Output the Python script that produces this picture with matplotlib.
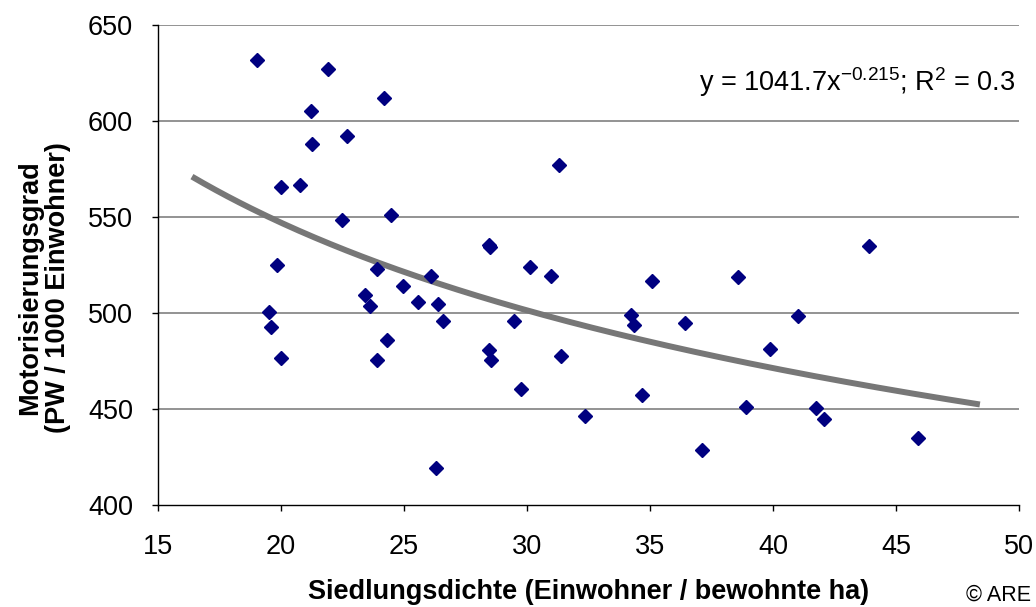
import numpy as np
import matplotlib
matplotlib.use("Agg")
import matplotlib.pyplot as plt

plt.rcParams['font.family'] = ['Liberation Sans', 'DejaVu Sans']
plt.rcParams['mathtext.fontset'] = 'custom'
plt.rcParams['mathtext.rm'] = 'Liberation Sans'
plt.rcParams['mathtext.it'] = 'Liberation Sans'

# Data (Siedlungsdichte, Motorisierungsgrad)
density = [19.01, 21.91, 24.18, 21.21, 22.70, 21.27, 20.00, 20.77, 22.47, 24.46,
           19.85, 23.89, 26.09, 24.96, 23.40, 23.61, 25.58, 26.37, 19.51, 26.58,
           19.58, 24.31, 20.00, 23.89, 26.29, 31.32, 28.45, 28.48, 30.11, 30.96,
           35.07, 38.56, 29.47, 34.21, 34.36, 36.41, 28.47, 28.55, 31.39, 29.76,
           34.69, 32.37, 37.13, 43.92, 41.00, 39.88, 38.89, 41.73, 42.07, 45.90]
motorisation = [632, 627, 612, 605, 592, 588, 565.5, 566.6, 548.4, 551.1,
                524.8, 522.9, 519.4, 514.0, 509.4, 503.8, 505.7, 504.8, 500.4, 495.8,
                492.9, 485.8, 476.8, 475.7, 419.4, 577.3, 535.5, 534.6, 523.9, 519.4,
                516.5, 518.6, 495.7, 498.8, 493.8, 494.8, 480.6, 475.4, 477.6, 460.5,
                457.5, 446.6, 428.6, 534.7, 498.3, 481.3, 451.1, 450.4, 444.9, 434.8]

# Power trendline y = a * x^b
trend_a = 1041.7
trend_b = -0.215
trend_range = [16.38, 48.41]

x_ticks = [15, 20, 25, 30, 35, 40, 45, 50]
y_ticks = [400, 450, 500, 550, 600, 650]

W, H = 1036, 607
fig = plt.figure(figsize=(W / 100, H / 100), dpi=100)
ax = fig.add_axes([158 / W, 1 - 505 / H, (1019 - 158) / W, (505 - 25) / H])

ax.set_xlim(15, 50)
ax.set_ylim(400, 650)
ax.set_xticks(x_ticks)
ax.set_yticks(y_ticks)

for yv in y_ticks[1:]:
    ax.axhline(yv, color='#808080', linewidth=1.2, zorder=1)

tx = np.linspace(trend_range[0], trend_range[1], 200)
ax.plot(tx, trend_a * tx ** trend_b, color='#777777', linewidth=4.3,
        solid_capstyle='butt', zorder=2)

ax.plot(density, motorisation, linestyle='none', marker='D', markersize=7,
        color='#000080', markeredgecolor='#000080', zorder=3)

for s in ['top', 'right']:
    ax.spines[s].set_visible(False)
for s in ['left', 'bottom']:
    ax.spines[s].set_color('black')
    ax.spines[s].set_linewidth(1.0)

ax.tick_params(axis='both', direction='out', length=4, width=1, colors='black',
               labelsize=19.5)
ax.tick_params(axis='y', pad=14)
ax.tick_params(axis='x', pad=17)

fig.text(589 / W, 1 - 592 / H, 'Siedlungsdichte (Einwohner / bewohnte ha)',
         fontsize=19.5, fontweight='bold', ha='center', va='center')
fig.text(44 / W, 1 - 288 / H, 'Motorisierungsgrad\n(PW / 1000 Einwohner)',
         rotation=90, fontsize=19.5, fontweight='bold', ha='center', va='center',
         linespacing=1.08)

fig.text(1015 / W, 1 - 82 / H, r'y = 1041.7x$^{\mathregular{-0.215}}$; R$^{\mathregular{2}}$ = 0.3',
         fontsize=19.5, ha='right', va='center')
fig.text(1031 / W, 1 - 595 / H, '© ARE', fontsize=15.5, ha='right', va='center')

fig.savefig('out.png', dpi=100)
